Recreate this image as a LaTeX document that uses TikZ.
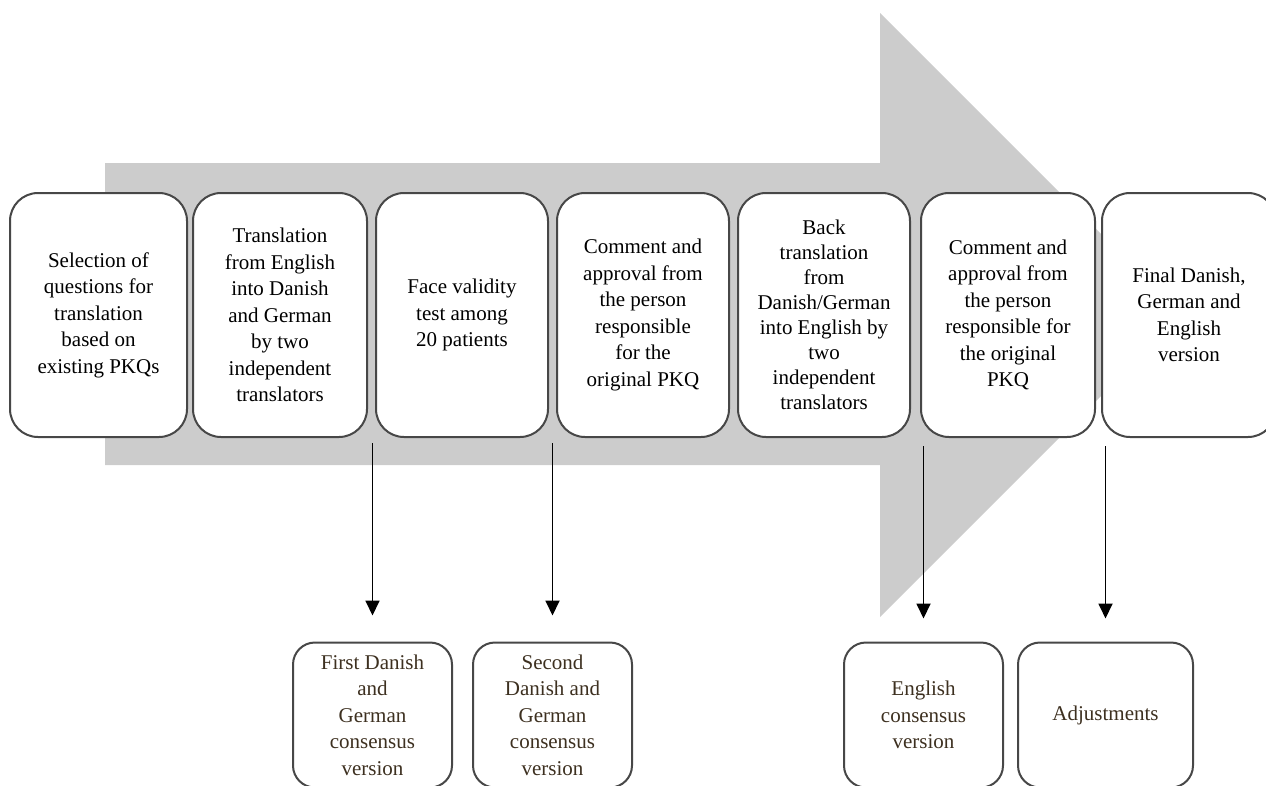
\documentclass[tikz,border=0pt]{standalone}
\usepackage{fontspec}
\setmainfont{Liberation Serif}
\usepackage{tikz}
\usetikzlibrary{arrows.meta,positioning}

\definecolor{arrowgray}{HTML}{CCCCCC}
\definecolor{inkbrown}{HTML}{3D3020}

\begin{document}
\begin{tikzpicture}[x=1pt,y=-1pt,
	stage/.style={draw=black!72, line width=2pt, fill=white, rounded corners=28pt,
		minimum width=174pt, minimum height=244pt, align=center, inner sep=2pt,
		font=\fontsize{21}{26.5}\selectfont},
	result/.style={stage, minimum width=159pt, minimum height=145pt, rounded corners=22pt, text=inkbrown},
	flow/.style={-{Triangle[width=14pt,length=15pt]}, line width=1.8pt}]
	
	\useasboundingbox (0,0) rectangle (1266,785);
	\clip (0,0) rectangle (1266,785);
	
	% big grey arrow behind
	\fill[arrowgray] (105,163) -- (880,163) -- (880,13) -- (1182,315) -- (880,617) -- (880,465) -- (105,465) -- cycle;
	
	\node[stage, minimum width=177pt] (s1) at (98.5,315) {Selection of\\questions for\\translation\\based on\\existing PKQs};
	\node[stage] (s2) at (280,315) {Translation\\from English\\into Danish\\and German\\by two\\independent\\translators};
	\node[stage, minimum width=172pt] (s3) at (462,315) {Face validity\\test among\\20 patients};
	\node[stage, minimum width=172pt] (s4) at (643,315) {Comment and\\approval from\\the person\\responsible\\for the\\original PKQ};
	\node[stage, minimum width=172pt, font=\fontsize{21}{25}\selectfont] (s5) at (824,315) {Back\\translation\\from\\Danish/German\\into English by\\two\\independent\\translators};
	\node[stage] (s6) at (1008,315) {Comment and\\approval from\\the person\\responsible for\\the original\\PKQ};
	\node[stage] (s7) at (1189,315) {Final Danish,\\German and\\English\\version};
	
	\node[result] (rA) at (372.5,715) {First Danish\\and\\German\\consensus\\version};
	\node[result] (rB) at (552.5,715) {Second\\Danish and\\German\\consensus\\version};
	\node[result] (rC) at (923.5,715) {English\\consensus\\version};
	\node[result, minimum width=175pt] (rD) at (1105.5,715) {Adjustments};
	
	\draw[flow] ([yshift=-5pt]rA.north |- s2.south) -- ([yshift=26pt]rA.north);
	\draw[flow] ([yshift=-5pt]rB.north |- s3.south) -- ([yshift=26pt]rB.north);
	\draw[flow] ([yshift=-8pt]rC.north |- s6.south) -- ([yshift=23pt]rC.north);
	\draw[flow] ([yshift=-8pt]rD.north |- s7.south) -- ([yshift=23pt]rD.north);
	
\end{tikzpicture}
\end{document}
